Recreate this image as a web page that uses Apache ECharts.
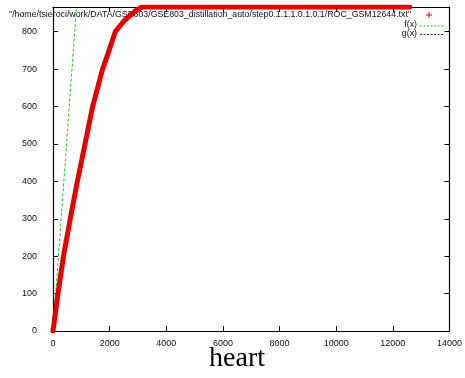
<!DOCTYPE html>
<html><head><meta charset="utf-8">
<script src="https://cdn.jsdelivr.net/npm/echarts@6/dist/echarts.min.js"></script>
<style>html,body{margin:0;padding:0;background:#fff}#c{width:465px;height:378px}</style>
</head><body><div id="c"></div>
<script>
var rocX = [0, 175, 370, 610, 860, 1130, 1400, 1750, 1980, 2200, 2500, 2750, 2950, 3150, 12600];
var rocY = [0, 100, 200, 300, 400, 500, 600, 700, 750, 800, 828, 845, 858, 866, 866];
var fX = [0, 830];
var fY = [0, 866];
var xTicks = [0, 2000, 4000, 6000, 8000, 10000, 12000, 14000];
var yTicks = [0, 100, 200, 300, 400, 500, 600, 700, 800];
var legendLabels = ['"/home/tsieroci/work/DATA/GSE803/GSE803_distillation_auto/step0.1.1.1.0.1.0.1/ROC_GSM12644.txt"', 'f(x)', 'g(x)'];
var xLabel = 'heart';

function zip(a, b) { return a.map(function (v, i) { return [v, b[i]]; }); }

var chart = echarts.init(document.getElementById('c'), null, {renderer: 'canvas'});
var axisFont = {fontFamily: 'Liberation Sans', fontSize: 9, color: '#111', formatter: function (v) { return String(v); }};
var lineSt = {show: true, onZero: false, lineStyle: {color: '#000', width: 1.2}};
var tickSt = {show: true, inside: true, length: 5, lineStyle: {color: '#000', width: 1}};
chart.setOption({
  animation: false,
  backgroundColor: '#fff',
  grid: {left: 53, right: 13, top: 7, bottom: 47},
  xAxis: [
    {type: 'value', min: xTicks[0], max: xTicks[xTicks.length - 1], interval: 2000, axisLine: lineSt, axisTick: tickSt, splitLine: {show: false},
     axisLabel: Object.assign({margin: 8}, axisFont)},
    {type: 'value', position: 'top', min: 0, max: 14000, interval: 2000, axisLine: lineSt, axisTick: tickSt, axisLabel: {show: false}, splitLine: {show: false}}
  ],
  yAxis: [
    {type: 'value', min: 0, max: 866, interval: 100, axisLine: lineSt, axisTick: tickSt, splitLine: {show: false},
     axisLabel: Object.assign({margin: 16, showMaxLabel: false}, axisFont)},
    {type: 'value', position: 'right', min: 0, max: 866, interval: 100, axisLine: lineSt, axisTick: tickSt, axisLabel: {show: false}, splitLine: {show: false}}
  ],
  graphic: [
    {type: 'text', z: 1, style: {text: xLabel, x: 237, y: 359, textAlign: 'center', textVerticalAlign: 'middle', fill: '#000', font: '28px "Liberation Serif"'}},
    {type: 'text', z: 1, style: {text: legendLabels[0], x: 411, y: 15, textAlign: 'right', textVerticalAlign: 'middle', fill: '#111', font: '8.8px "Liberation Sans"'}},
    {type: 'text', z: 1, style: {text: legendLabels[1], x: 417, y: 25, textAlign: 'right', textVerticalAlign: 'middle', fill: '#111', font: '8.8px "Liberation Sans"'}},
    {type: 'text', z: 1, style: {text: legendLabels[2], x: 417, y: 34, textAlign: 'right', textVerticalAlign: 'middle', fill: '#111', font: '8.8px "Liberation Sans"'}},
    {type: 'line', z: 1, shape: {x1: 426, y1: 15, x2: 432, y2: 15}, style: {stroke: '#e00000', lineWidth: 1}},
    {type: 'line', z: 1, shape: {x1: 429, y1: 12, x2: 429, y2: 18}, style: {stroke: '#e00000', lineWidth: 1}},
    {type: 'line', z: 1, shape: {x1: 420, y1: 26, x2: 443, y2: 26}, style: {stroke: '#20c020', lineWidth: 1, lineDash: [2, 1.5]}},
    {type: 'line', z: 1, shape: {x1: 420, y1: 34.5, x2: 443, y2: 34.5}, style: {stroke: '#202080', lineWidth: 1, lineDash: [2, 1.5]}}
  ],
  series: [
    {type: 'line', name: 'f(x)', data: zip(fX, fY), showSymbol: false, z: 3, lineStyle: {color: '#22c022', width: 1, type: [3, 2]}},
    {type: 'line', name: 'g(x)', data: [], showSymbol: false, z: 3, lineStyle: {color: '#202080', width: 1, type: [3, 2]}},
    {type: 'line', name: 'roc', data: zip(rocX, rocY), showSymbol: false, z: 4, lineStyle: {color: '#e80000', width: 5, cap: 'round', join: 'round'}}
  ]
});
</script></body></html>
